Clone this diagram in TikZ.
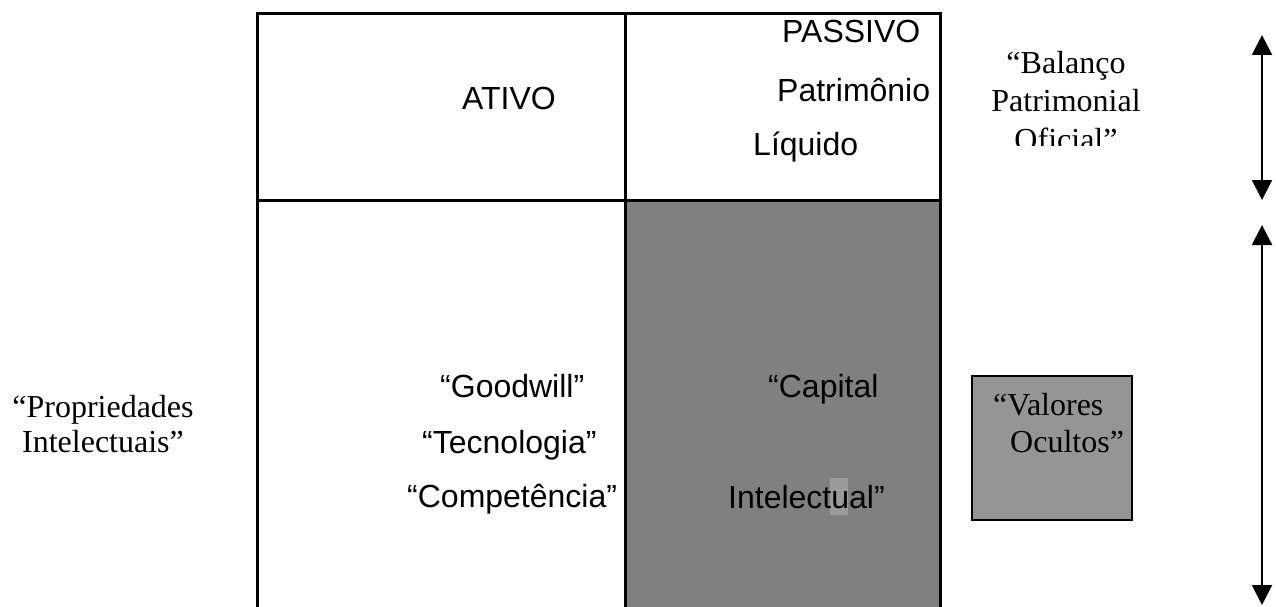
\documentclass[tikz,border=0pt]{standalone}
\usepackage{fontspec}
\setmainfont{Liberation Serif}
\setsansfont{Liberation Sans}
\usetikzlibrary{arrows.meta}

\definecolor{cellgray}{HTML}{808080}
\definecolor{boxgray}{HTML}{959595}
\definecolor{markgray}{HTML}{9A9A9A}

\tikzset{
  sanslabel/.style={inner sep=0pt,anchor=base west,font=\sffamily\fontsize{32}{36}\selectfont},
  seriflabel/.style={inner sep=0pt,font=\rmfamily\fontsize{32}{36}\selectfont},
  span/.style={{Triangle[width=20pt,length=20pt]}-{Triangle[width=20pt,length=20pt]},line width=2pt}
}

\begin{document}
\begin{tikzpicture}[x=1pt,y=-1pt]
        \clip (0,0) rectangle (1276,607);

        % cells of the balance sheet
        \fill[cellgray] (625,200) rectangle (940,640);
        \fill[markgray] (830,478) rectangle (848,515);
        \draw[line width=3pt] (257,14) rectangle (940,640);
        \draw[line width=3pt] (625,14) -- (625,640);
        \draw[line width=3pt] (257,200) -- (940,200);

        \draw[line width=2pt,fill=boxgray] (972,376) rectangle (1132,520);

        \begin{scope}[every node/.style={sanslabel}]
          \node (ativo)       at (462,110) {ATIVO};
          \node (passivo)     at (782,43)  {PASSIVO};
          \node (patrimonio)  at (777,102) {Patrimônio};
          \node (liquido)     at (753,155) {Líquido};
          \node (goodwill)    at (440,397) {“Goodwill”};
          \node (tecnologia)  at (422,453) {“Tecnologia”};
          \node (competencia) at (407,507) {“Competência”};
          \node (capital)     at (768,397) {“Capital};
          \node (intelectual) at (728,508) {Intelectual”};
        \end{scope}

        \begin{scope}[every node/.style={seriflabel}]
          \node[align=center,anchor=base,font=\rmfamily\fontsize{32}{35}\selectfont] (propriedades) at (103,452) {“Propriedades\\Intelectuais”};
          \node[align=left,anchor=base west,font=\rmfamily\fontsize{32}{37}\selectfont] (valores) at (993,452) {“Valores\\\hspace*{17pt}Ocultos”};
          \begin{scope}
            \clip (950,0) rectangle (1200,145);
            \node[align=center,anchor=base,font=\rmfamily\fontsize{32}{38.5}\selectfont] (balanco) at (1066,150) {“Balanço\\Patrimonial\\Oficial”};
          \end{scope}
        \end{scope}

        \coordinate (topA) at (1262,35);
        \coordinate (topB) at (1262,200);
        \coordinate (botA) at (1262,225);
        \coordinate (botB) at (1262,605);
        \draw[span] (topA) -- (topB);
        \draw[span] (botA) -- (botB);

\end{tikzpicture}
\end{document}
